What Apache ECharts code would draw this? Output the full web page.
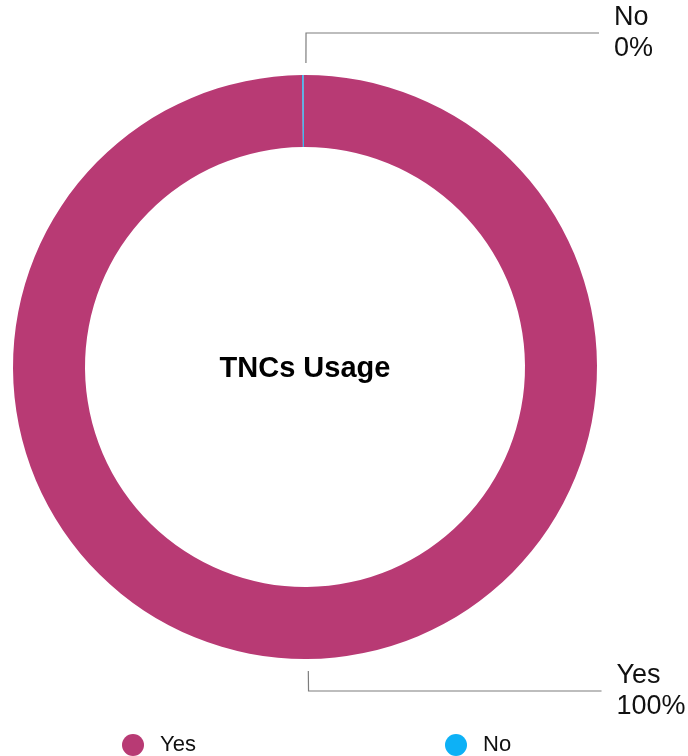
<!DOCTYPE html>
<html>
<head>
<meta charset="utf-8">
<script src="https://cdn.jsdelivr.net/npm/echarts@6/dist/echarts.min.js"></script>
<style>
  html, body { margin: 0; padding: 0; background: #fff; }
  #chart { width: 688px; height: 756px; }
</style>
</head>
<body>
<div id="chart"></div>
<script>
const categories = ['Yes', 'No']
const values = [100, 0]
const colors = ['#B83A74', '#0DB1F6']
const chartTitle = 'TNCs Usage'

const FONT = '"Liberation Sans", Arial, Helvetica, sans-serif'

const chart = echarts.init(document.getElementById('chart'))

const pieData = categories.map((name, i) => ({ name: name, value: values[i] }))

// invisible ring just outside the donut, used only to place one callout label.
// Both callouts sit on the right, so each label gets its own ring/start angle.
function labelRing(startAngle, labelName, lineLen) {
  return {
    type: 'pie',
    center: [305, 367],
    radius: [292, 304],
    startAngle: startAngle,
    clockwise: true,
    minAngle: 0.25,
    avoidLabelOverlap: false,
    silent: true,
    itemStyle: { color: 'rgba(0,0,0,0)' },
    label: {
      show: true,
      position: 'outside',
      formatter: '{b}\n{d}%',
      fontFamily: FONT,
      fontSize: 27,
      lineHeight: 31,
      padding: [8, 0, 0, 0],
      color: '#111',
      distanceToLabelLine: 15
    },
    labelLine: {
      show: true,
      length: lineLen,
      length2: 293,
      lineStyle: { color: '#7d7d7d', width: 1.2 }
    },
    data: pieData.map(d => ({
      name: d.name,
      value: d.value,
      label: { show: d.name === labelName },
      labelLine: { show: d.name === labelName }
    }))
  }
}

chart.setOption({
  color: colors,
  animation: false,
  graphic: [{
    type: 'text',
    x: 305,
    y: 369,
    style: {
      text: chartTitle,
      align: 'center',
      verticalAlign: 'middle',
      font: 'bold 29px ' + FONT,
      fill: '#000'
    }
  }],
  legend: categories.map((name, i) => ({
    data: [{ name: name, icon: 'circle' }],
    left: i === 0 ? 122 : 445,
    top: 734,
    padding: 0,
    itemWidth: 22,
    itemHeight: 22,
    selectedMode: false,
    textStyle: {
      fontFamily: FONT,
      fontSize: 22,
      color: '#111',
      padding: [0, 0, 0, 11]
    }
  })),
  series: [
    {
      // the visible ring
      type: 'pie',
      center: [305, 367],
      radius: [220, 292],
      startAngle: 90.3,
      clockwise: true,
      minAngle: 0.25,
      avoidLabelOverlap: false,
      silent: true,
      label: { show: false },
      labelLine: { show: false },
      itemStyle: { borderWidth: 0 },
      data: pieData
    },
    labelRing(90.5, 'Yes', 20),
    labelRing(89.7, 'No', 30)
  ]
})
</script>
</body>
</html>
